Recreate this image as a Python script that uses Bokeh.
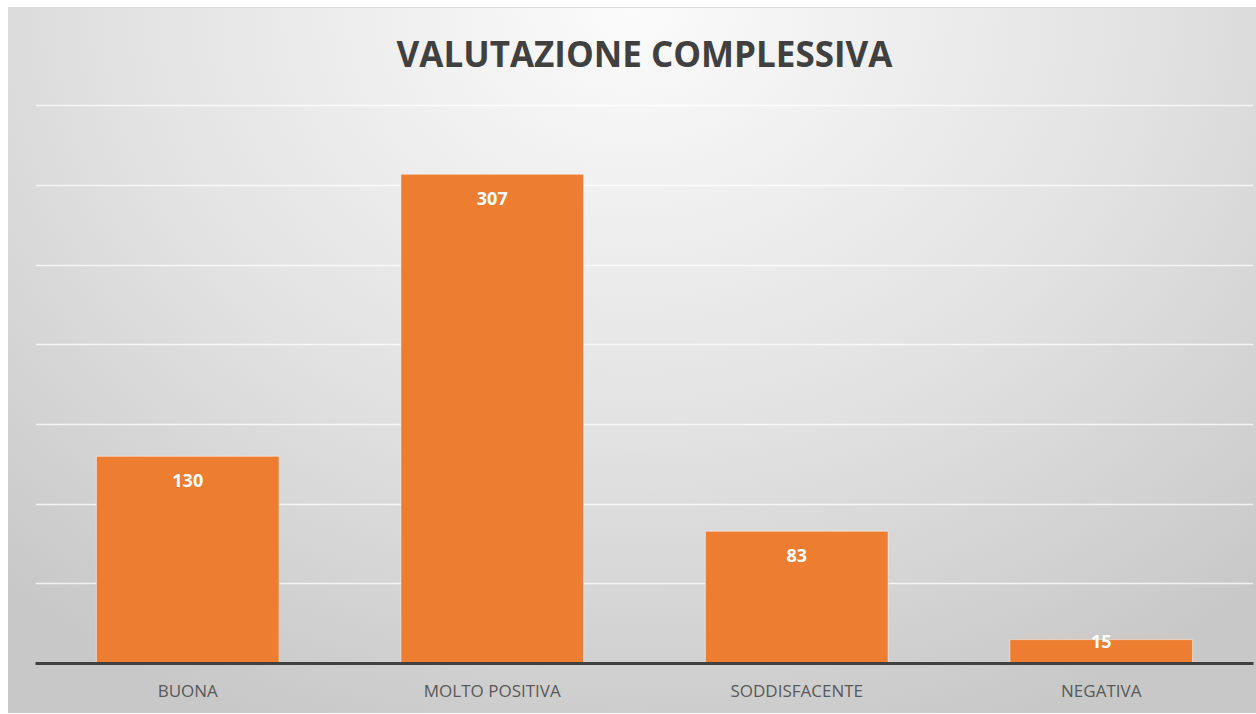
from bokeh.plotting import figure
from bokeh.models import ColumnDataSource, FixedTicker, Label
from bokeh.core.properties import value
from bokeh.embed import file_html
from bokeh.resources import INLINE

categories = ["BUONA", "MOLTO POSITIVA", "SODDISFACENTE", "NEGATIVA"]
counts = [130, 307, 83, 15]
grid_values = [50, 100, 150, 200, 250, 300, 350]
title_text = "VALUTAZIONE COMPLESSIVA"

label_y = [max(c - 15, 14) for c in counts]
src = ColumnDataSource(dict(cat=categories, n=counts, ly=label_y,
                            txt=[str(c) for c in counts]))

# the plot area reaches the top of the chart so that the title can sit inside it
p = figure(x_range=categories, y_range=(0, 411), width=1248, height=706,
           output_backend="svg", toolbar_location=None,
           min_border_left=27, min_border_right=3, min_border_top=0,
           min_border_bottom=51)

p.vbar(x="cat", top="n", width=0.6, source=src, fill_color="#ED7D31",
       line_color="white", line_alpha=0.5, line_width=1)
p.text(x="cat", y="ly", text="txt", source=src, text_color="white",
       text_font=value("Open Sans"), text_font_style="bold",
       text_font_size="18px", text_align="center", text_baseline="middle")

# chart title, centred over the plot area (x=2 is the middle of 4 categories)
p.add_layout(Label(x=len(categories) / 2, y=grid_values[-1], y_offset=52,
                   text=title_text, text_align="center",
                   text_baseline="middle", text_font="Open Sans",
                   text_font_style="bold", text_font_size="35px",
                   text_color="#404040"))

p.yaxis.visible = False
p.xaxis.axis_line_color = "#404040"
p.xaxis.axis_line_width = 3
p.xaxis.major_tick_line_color = None
p.xaxis.minor_tick_line_color = None
p.xaxis.major_label_text_font = "Open Sans"
p.xaxis.major_label_text_font_size = "17px"
p.xaxis.major_label_text_color = "#595959"
p.xaxis.major_label_standoff = 9

p.xgrid.visible = False
p.ygrid.ticker = FixedTicker(ticks=grid_values)
p.ygrid.grid_line_color = "white"
p.ygrid.grid_line_alpha = 0.75
p.ygrid.grid_line_width = 1.5

p.outline_line_color = None
p.border_fill_color = None
p.background_fill_color = None
p.styles = {"background": "radial-gradient(ellipse 75% 110% at 50% 0%, #fbfbfb 0%, #e2e2e2 55%, #c8c8c8 100%)",
            "border-top": "1px solid #d8d8d8",
            "margin-left": "8px", "margin-top": "7px"}

open("out.html", "w").write(file_html(p, INLINE))
